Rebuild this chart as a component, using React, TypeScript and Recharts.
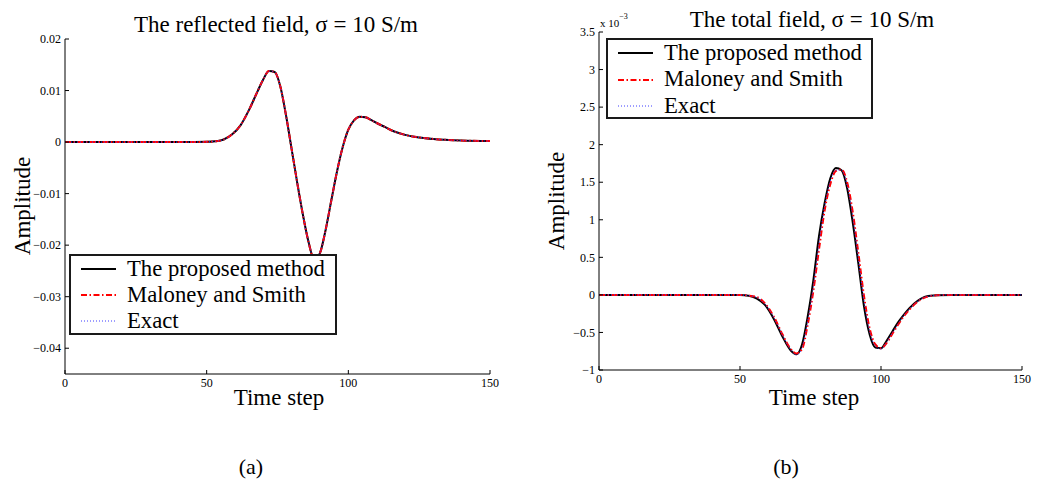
import React from 'react';
import { LineChart, Line, XAxis, YAxis, Legend } from 'recharts';

const timeSteps = [
    0, 10, 20, 30, 40, 45, 50, 53, 56, 59, 62, 65, 68, 70, 72, 74, 76, 78, 80, 82, 84, 86, 88, 90, 92, 94, 96,
    98, 100, 102, 104, 106, 108, 110, 113, 116, 120, 125, 130, 140, 150,
];

// (a) reflected field
const reflectedProposed = [
    0, 0, 0, 0, 0, 0.00001, 0.00004, 0.00015, 0.0005, 0.0015, 0.0033, 0.0063, 0.0099, 0.0122, 0.0138, 0.0136,
    0.0108, 0.0052, -0.0014, -0.008, -0.0142, -0.0195, -0.0228, -0.0215, -0.017, -0.0113, -0.0057, -0.001,
    0.0024, 0.0042, 0.0049, 0.0048, 0.0043, 0.0037, 0.0029, 0.0021, 0.0014, 0.0009, 0.0006, 0.0003, 0.0002,
];
const reflectedMaloney = [
    0, 0, 0, 0, 0, 0.00001, 0.00004, 0.00015, 0.0005, 0.0015, 0.0033, 0.0063, 0.0099, 0.0122, 0.0138, 0.0136,
    0.0108, 0.0052, -0.0014, -0.008, -0.0142, -0.0195, -0.0228, -0.0215, -0.017, -0.0113, -0.0057, -0.001,
    0.0024, 0.0042, 0.0049, 0.0048, 0.0043, 0.0037, 0.0029, 0.0021, 0.0014, 0.0009, 0.0006, 0.0003, 0.0002,
];
const reflectedExact = [
    0, 0, 0, 0, 0, 0.00001, 0.00004, 0.00015, 0.0005, 0.0015, 0.0033, 0.0063, 0.0099, 0.0122, 0.0138, 0.0136,
    0.0108, 0.0052, -0.0014, -0.008, -0.0142, -0.0195, -0.0228, -0.0215, -0.017, -0.0113, -0.0057, -0.001,
    0.0024, 0.0042, 0.0049, 0.0048, 0.0043, 0.0037, 0.0029, 0.0021, 0.0014, 0.0009, 0.0006, 0.0003, 0.0002,
];

// (b) total field, in units of 1e-3
const totalProposed = [
    0, 0, 0, 0, 0, 0, -0.002, -0.01, -0.05, -0.14, -0.32, -0.55, -0.74, -0.79, -0.66, -0.29, 0.19, 0.78, 1.22,
    1.55, 1.69, 1.66, 1.42, 0.96, 0.41, -0.16, -0.53, -0.7, -0.71, -0.61, -0.49, -0.37, -0.27, -0.18, -0.08,
    -0.02, -0.005, 0, 0, 0, 0,
];
const totalMaloney = [
    0, 0, 0, 0, 0, 0, -0.001, -0.008, -0.03, -0.12, -0.29, -0.52, -0.72, -0.78, -0.72, -0.4, 0.05, 0.6, 1.12,
    1.47, 1.65, 1.67, 1.5, 1.1, 0.55, -0.02, -0.45, -0.66, -0.71, -0.64, -0.52, -0.4, -0.29, -0.2, -0.09, -0.03,
    -0.005, 0, 0, 0, 0,
];
const totalExact = [
    0, 0, 0, 0, 0, 0, -0.001, -0.009, -0.035, -0.13, -0.3, -0.53, -0.73, -0.8, -0.7, -0.36, 0.1, 0.68, 1.17,
    1.51, 1.66, 1.66, 1.46, 1.04, 0.48, -0.08, -0.49, -0.68, -0.72, -0.63, -0.51, -0.39, -0.28, -0.19, -0.085,
    -0.025, -0.005, 0, 0, 0, 0,
];

const xTicks = [0, 50, 100, 150];
const reflectedTicks = [-0.04, -0.03, -0.02, -0.01, 0, 0.01, 0.02];
const totalTicks = [-1, -0.5, 0, 0.5, 1, 1.5, 2, 2.5, 3, 3.5];

const seriesNames = ['The proposed method', 'Maloney and Smith', 'Exact'];

const reflectedData = timeSteps.map((t, i) => ({
    t,
    proposed: reflectedProposed[i],
    maloney: reflectedMaloney[i],
    exact: reflectedExact[i],
}));
const totalData = timeSteps.map((t, i) => ({
    t,
    proposed: totalProposed[i],
    maloney: totalMaloney[i],
    exact: totalExact[i],
}));

const SERIF = '"Liberation Serif", "Times New Roman", serif';

const series = [
    { key: 'proposed', name: seriesNames[0], color: '#000000', width: 2, dash: undefined },
    { key: 'maloney', name: seriesNames[1], color: '#ff0000', width: 2, dash: '6 2.5 1.5 2.5' },
    { key: 'exact', name: seriesNames[2], color: '#3c3cff', width: 1, dash: '1 2' },
];

const fmt = (v: number) => (v === 0 ? '0' : (v < 0 ? '\u2212' : '') + String(Math.abs(v)));

const tickStyle = { fill: '#000', fontSize: 12, fontFamily: SERIF };

function LegendBox({ rowGap }: { rowGap: number }) {
    return (
        <div
            style={{
                border: '2px solid #1a1a1a',
                background: '#fff',
                fontFamily: SERIF,
                fontSize: 22.7,
                color: '#000',
                padding: '0',
                boxSizing: 'border-box',
                width: '100%',
                height: '100%',
            }}
        >
            {series.map((s) => (
                <div key={s.key} style={{ display: 'flex', alignItems: 'center', height: rowGap }}>
                    <svg width={56} height={10} style={{ flex: 'none' }}>
                        <line
                            x1={10}
                            x2={45}
                            y1={5}
                            y2={5}
                            stroke={s.color}
                            strokeWidth={s.width}
                            strokeDasharray={s.dash}
                        />
                    </svg>
                    <span style={{ whiteSpace: 'nowrap', lineHeight: 1 }}>{s.name}</span>
                </div>
            ))}
        </div>
    );
}

function Panel({
    data,
    ticks,
    domain,
    width,
    yAxisWidth,
    top,
    xAxisHeight,
    right,
    legendPos,
    rowGap,
}: {
    data: any[];
    ticks: number[];
    domain: [number, number];
    width: number;
    yAxisWidth: number;
    top: number;
    xAxisHeight: number;
    right: number;
    legendPos: { left: number; top: number; width: number; height: number };
    rowGap: number;
}) {
    return (
        <LineChart width={width} height={486} data={data} margin={{ top, right, bottom: 0, left: 0 }}>
            <XAxis
                dataKey="t"
                type="number"
                domain={[0, 150]}
                ticks={xTicks}
                height={xAxisHeight}
                tickSize={-4}
                tickMargin={8}
                tick={tickStyle}
                stroke="#000"
                axisLine={{ stroke: '#000' }}
                tickLine={{ stroke: '#000' }}
            />
            <YAxis
                type="number"
                domain={domain}
                ticks={ticks}
                width={yAxisWidth}
                tickSize={-4}
                tickMargin={8}
                tickFormatter={fmt}
                tick={tickStyle}
                stroke="#000"
                axisLine={{ stroke: '#000' }}
                tickLine={{ stroke: '#000' }}
                interval={0}
            />
            {series.map((s) => (
                <Line
                    key={s.key}
                    dataKey={s.key}
                    name={s.name}
                    type="monotone"
                    stroke={s.color}
                    strokeWidth={s.width}
                    strokeDasharray={s.dash}
                    dot={false}
                    activeDot={false}
                    isAnimationActive={false}
                />
            ))}
            <Legend
                layout="horizontal"
                verticalAlign="middle"
                align="center"
                wrapperStyle={{ ...legendPos }}
                content={() => <LegendBox rowGap={rowGap} />}
            />
        </LineChart>
    );
}

export default function App() {
    return (
        <div
            style={{
                position: 'absolute',
                left: 0,
                top: 0,
                width: 1050,
                height: 486,
                background: '#fff',
                overflow: 'hidden',
                fontFamily: SERIF,
            }}
        >
            <div style={{ position: 'absolute', left: 0, top: 0 }}>
                <Panel
                    data={reflectedData}
                    ticks={reflectedTicks}
                    domain={[-0.045, 0.02]}
                    width={520}
                    yAxisWidth={65}
                    top={39}
                    xAxisHeight={112}
                    right={30}
                    legendPos={{ left: 69, top: 254, width: 268, height: 81 }}
                    rowGap={26}
                />
            </div>
            <div style={{ position: 'absolute', left: 520, top: 0 }}>
                <Panel
                    data={totalData}
                    ticks={totalTicks}
                    domain={[-1, 3.5]}
                    width={530}
                    yAxisWidth={79}
                    top={32}
                    xAxisHeight={116}
                    right={28}
                    legendPos={{ left: 86, top: 38, width: 267, height: 81 }}
                    rowGap={26.5}
                />
            </div>
            <svg
                width={1050}
                height={486}
                style={{ position: 'absolute', left: 0, top: 0, pointerEvents: 'none' }}
                fontFamily={SERIF}
            >
                <text x={276} y={31.5} fontSize={23} textAnchor="middle" fill="#000">
                    The reflected field, σ = 10 S/m
                </text>
                <text x={812} y={26.5} fontSize={23} textAnchor="middle" fill="#000">
                    The total field, σ = 10 S/m
                </text>
                <text x={279} y={404.5} fontSize={23} textAnchor="middle" fill="#000">
                    Time step
                </text>
                <text x={814} y={404.5} fontSize={23} textAnchor="middle" fill="#000">
                    Time step
                </text>
                <text x={30} y={206} fontSize={23} textAnchor="middle" fill="#000" transform="rotate(-90 30 206)">
                    Amplitude
                </text>
                <text x={564} y={201} fontSize={23} textAnchor="middle" fill="#000" transform="rotate(-90 564 201)">
                    Amplitude
                </text>
                <text x={600} y={27} fontSize={11} fill="#000">
                    x 10
                    <tspan fontSize={8} dy={-8}>
                        {'\u22123'}
                    </tspan>
                </text>
                <text x={251} y={474} fontSize={22} textAnchor="middle" fill="#000">
                    (a)
                </text>
                <text x={786} y={474} fontSize={22} textAnchor="middle" fill="#000">
                    (b)
                </text>
            </svg>
        </div>
    );
}
